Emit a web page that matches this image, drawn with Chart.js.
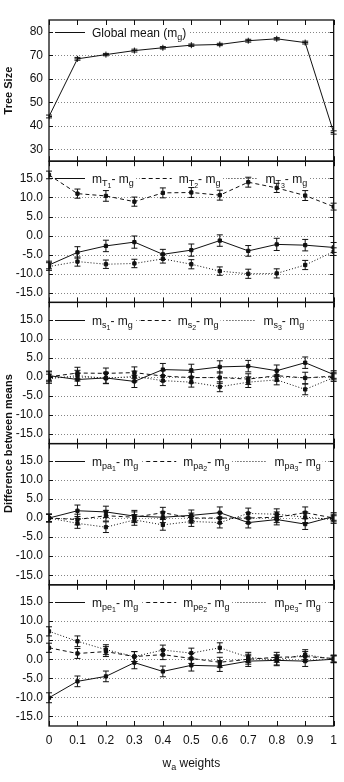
<!DOCTYPE html>
<html lang="en">
<head>
<meta charset="UTF-8" />
<title>Tree size and differences between means</title>
<script src="https://cdn.jsdelivr.net/npm/chart.js@4"></script>
<style>
  body { margin: 0; background: #fff; }
  canvas { display: block; }
</style>
</head>
<body>
<canvas id="chart" width="344" height="782"></canvas>
<script>
// x values (w_a weights) and tick labels
const weights = [0, 0.1, 0.2, 0.3, 0.4, 0.5, 0.6, 0.7, 0.8, 0.9, 1];
const treeTicks = [30, 40, 50, 60, 70, 80];
const diffTicks = [-15, -10, -5, 0, 5, 10, 15];

// panel 1: global mean tree size
const globalMean    = [44.0, 68.5, 70.3, 72.0, 73.2, 74.3, 74.6, 76.2, 77.0, 75.4, 37.2];
const globalMeanErr = [0.6, 0.6, 0.5, 0.6, 0.5, 0.5, 0.5, 0.6, 0.5, 0.6, 0.7];

// panel 2: m_T - m_g
const t1    = [-7.7, -4.4, -2.7, -1.7, -4.9, -3.8, -1.3, -4.0, -2.3, -2.5, -3.1];
const t1Err = [1.0, 1.5, 1.5, 1.6, 1.3, 1.6, 1.5, 1.4, 1.6, 1.5, 1.3];
const t2    = [15.9, 11.0, 10.4, 8.9, 11.2, 11.3, 10.6, 14.0, 12.5, 10.5, 7.6];
const t2Err = [1.0, 1.2, 1.4, 1.2, 1.3, 1.3, 1.3, 1.3, 1.2, 1.3, 0.9];
const t3    = [-8.1, -6.8, -7.5, -7.3, -6.1, -7.5, -9.3, -10.0, -9.9, -7.7, -4.2];
const t3Err = [1.0, 1.2, 1.1, 1.1, 1.1, 1.2, 1.1, 1.2, 1.2, 1.2, 1.0];

// panel 3: m_s - m_g
const s1    = [0.3, -0.7, -0.3, -1.2, 1.9, 1.7, 2.6, 2.8, 1.6, 3.7, 0.6];
const s1Err = [1.2, 1.6, 1.5, 1.6, 1.6, 1.6, 1.6, 1.5, 1.5, 1.5, 1.0];
const s2    = [0.0, 1.0, 0.9, 1.1, 0.2, -0.2, -0.2, -0.6, 0.3, -0.3, 0.2];
const s2Err = [1.3, 1.5, 1.4, 1.5, 1.4, 1.4, 1.5, 1.4, 1.4, 1.5, 1.0];
const s3    = [-0.5, 0.3, -0.4, 0.1, -1.0, -1.4, -2.6, -1.4, -0.8, -3.3, -0.2];
const s3Err = [1.2, 1.4, 1.3, 1.4, 1.3, 1.3, 1.3, 1.4, 1.3, 1.4, 1.0];

// panel 4: m_pa - m_g
const pa1    = [0.0, 1.9, 1.6, 0.5, 0.2, 0.7, 1.4, -1.2, -0.4, -1.6, 0.4];
const pa1Err = [1.0, 1.5, 1.5, 1.5, 1.4, 1.4, 1.5, 1.4, 1.4, 1.4, 1.0];
const pa2    = [0.0, -0.4, 0.6, 0.2, 1.4, 0.0, 0.0, 0.0, 0.2, 1.4, 0.0];
const pa2Err = [1.0, 1.4, 1.4, 1.4, 1.4, 1.3, 1.4, 1.4, 1.4, 1.5, 1.0];
const pa3    = [0.0, -1.4, -2.4, -0.5, -1.8, -0.9, -1.2, 1.2, 1.0, 0.2, -0.4];
const pa3Err = [1.0, 1.3, 1.4, 1.4, 1.4, 1.3, 1.4, 1.4, 1.4, 1.4, 1.0];

// panel 5: m_pe - m_g
const pe1    = [-10.1, -5.8, -4.5, -0.9, -3.2, -1.6, -1.8, -0.5, -0.3, -0.5, 0.0];
const pe1Err = [1.3, 1.4, 1.4, 1.6, 1.4, 1.5, 1.4, 1.4, 1.4, 1.4, 0.9];
const pe2    = [3.0, 1.5, 2.0, 0.7, 1.2, 0.2, -0.8, 0.0, 0.5, 0.7, 0.2];
const pe2Err = [1.2, 1.3, 1.3, 1.3, 1.3, 1.3, 1.3, 1.3, 1.3, 1.3, 0.9];
const pe3    = [7.3, 4.7, 2.5, 0.7, 2.4, 1.6, 3.0, 0.5, -0.2, 1.2, 0.0];
const pe3Err = [1.2, 1.4, 1.3, 1.3, 1.3, 1.3, 1.3, 1.3, 1.3, 1.3, 0.9];

// label pieces: [text, level]  level 0 = normal, 1 = subscript, 2 = sub-subscript
const lbl = (a, n) => [['m', 0], [a, 1], [n, 2], ['- m', 0], ['g', 1]];

const FONT = '"Liberation Sans", Arial, Helvetica, sans-serif';
const INK = '#111';
const SOLID = [], DASHED = [4, 3], DOTTED = [1, 2];

const panels = [
  { id: 'y1', min: 25, max: 85, ticks: treeTicks, fmt: v => String(v) },
  { id: 'y2', min: -17.5, max: 19.5, ticks: diffTicks, fmt: v => v.toFixed(1) },
  { id: 'y3', min: -17.5, max: 19.5, ticks: diffTicks, fmt: v => v.toFixed(1) },
  { id: 'y4', min: -17.5, max: 19.5, ticks: diffTicks, fmt: v => v.toFixed(1) },
  { id: 'y5', min: -17.5, max: 19.5, ticks: diffTicks, fmt: v => v.toFixed(1) }
];

const series = [
  { axis: 'y1', values: globalMean, err: globalMeanErr, dash: SOLID, point: 'cross',
    label: [['Global mean (m', 0], ['g', 1], [')', 0]] },
  { axis: 'y2', values: t1, err: t1Err, dash: SOLID, label: lbl('T', '1') },
  { axis: 'y2', values: t2, err: t2Err, dash: DASHED, label: lbl('T', '2') },
  { axis: 'y2', values: t3, err: t3Err, dash: DOTTED, label: lbl('T', '3') },
  { axis: 'y3', values: s1, err: s1Err, dash: SOLID, label: lbl('s', '1') },
  { axis: 'y3', values: s2, err: s2Err, dash: DASHED, label: lbl('s', '2') },
  { axis: 'y3', values: s3, err: s3Err, dash: DOTTED, label: lbl('s', '3') },
  { axis: 'y4', values: pa1, err: pa1Err, dash: SOLID, label: lbl('pa', '1') },
  { axis: 'y4', values: pa2, err: pa2Err, dash: DASHED, label: lbl('pa', '2') },
  { axis: 'y4', values: pa3, err: pa3Err, dash: DOTTED, label: lbl('pa', '3') },
  { axis: 'y5', values: pe1, err: pe1Err, dash: SOLID, label: lbl('pe', '1') },
  { axis: 'y5', values: pe2, err: pe2Err, dash: DASHED, label: lbl('pe', '2') },
  { axis: 'y5', values: pe3, err: pe3Err, dash: DOTTED, label: lbl('pe', '3') }
];

const subFonts = ['12px ' + FONT, '9px ' + FONT, '7px ' + FONT];
const subOffs = [0, 3, 5];

function partsWidth(ctx, parts) {
  let w = 0;
  for (const [t, l] of parts) { ctx.font = subFonts[l]; w += ctx.measureText(t).width; }
  return w;
}
function drawParts(ctx, parts, x, y) {
  for (const [t, l] of parts) {
    ctx.font = subFonts[l];
    ctx.fillText(t, x, y + subOffs[l]);
    x += ctx.measureText(t).width;
  }
}
// where each key entry of a panel goes
function keyLayout(chart, p) {
  const ctx = chart.ctx, area = chart.chartArea, sc = chart.scales[p.id];
  const items = series.filter(s => s.axis === p.id);
  const y = Math.round(sc.getPixelForValue(p.ticks[p.ticks.length - 1])) + 0.5;
  const col = Math.max(...items.map(s => partsWidth(ctx, s.label))) + 45;
  return items.map((s, i) => ({ s, y, tx: area.left + 43 + i * col, tw: partsWidth(ctx, s.label) }));
}

const decor = {
  id: 'decor',
  beforeDatasetsDraw(chart) {
    const ctx = chart.ctx, area = chart.chartArea;
    ctx.save();
    ctx.strokeStyle = '#666';
    ctx.lineWidth = 0.8;
    ctx.setLineDash([1, 2]);
    for (const p of panels) {
      const sc = chart.scales[p.id];
      for (const v of p.ticks) {
        const y = Math.round(sc.getPixelForValue(v)) + 0.5;
        ctx.beginPath();
        ctx.moveTo(area.left, y);
        ctx.lineTo(area.right, y);
        ctx.stroke();
      }
    }
    // keep key text clear of the grid, data still drawn on top
    ctx.fillStyle = '#fff';
    for (const p of panels) {
      for (const k of keyLayout(chart, p)) {
        ctx.fillRect(k.tx - 38, k.y - 2, k.tw + 40, 4);
      }
    }
    ctx.restore();
  },
  afterDatasetsDraw(chart) {
    const ctx = chart.ctx, area = chart.chartArea, xs = chart.scales.x;
    ctx.save();
    // error bars
    ctx.strokeStyle = INK;
    ctx.lineWidth = 1;
    ctx.setLineDash([]);
    for (const s of series) {
      const sc = chart.scales[s.axis];
      s.values.forEach((v, i) => {
        const x = xs.getPixelForValue(weights[i]);
        const y1 = sc.getPixelForValue(v - s.err[i]);
        const y2 = sc.getPixelForValue(v + s.err[i]);
        ctx.beginPath();
        ctx.moveTo(x, y1); ctx.lineTo(x, y2);
        ctx.moveTo(x - 3, y1); ctx.lineTo(x + 3, y1);
        ctx.moveTo(x - 3, y2); ctx.lineTo(x + 3, y2);
        ctx.stroke();
      });
    }
    // panel frames and tick marks
    for (const p of panels) {
      const sc = chart.scales[p.id];
      ctx.lineWidth = 1;
      ctx.beginPath();
      for (const w of weights) {
        const x = Math.round(xs.getPixelForValue(w)) + 0.5;
        ctx.moveTo(x, sc.top); ctx.lineTo(x, sc.top + 5);
        ctx.moveTo(x, sc.bottom); ctx.lineTo(x, sc.bottom - 5);
      }
      for (const v of p.ticks) {
        const y = Math.round(sc.getPixelForValue(v)) + 0.5;
        ctx.moveTo(area.left, y); ctx.lineTo(area.left + 4, y);
        ctx.moveTo(area.right, y); ctx.lineTo(area.right - 4, y);
      }
      ctx.stroke();
      ctx.lineWidth = 1.3;
      ctx.strokeRect(area.left, sc.top, area.right - area.left, sc.bottom - sc.top);
    }
    // keys
    ctx.fillStyle = INK;
    ctx.textBaseline = 'alphabetic';
    for (const p of panels) {
      for (const k of keyLayout(chart, p)) {
        ctx.setLineDash(k.s.dash);
        ctx.lineWidth = 1;
        ctx.beginPath();
        ctx.moveTo(k.tx - 37, k.y); ctx.lineTo(k.tx - 7, k.y);
        ctx.stroke();
        ctx.setLineDash([]);
        drawParts(ctx, k.s.label, k.tx, k.y + 4);
      }
    }
    ctx.restore();
  },
  afterDraw(chart) {
    const ctx = chart.ctx, area = chart.chartArea;
    ctx.save();
    ctx.fillStyle = INK;
    // x title
    const xt = [['w', 0], ['a', 1], [' weights', 0]];
    drawParts(ctx, xt, (area.left + area.right) / 2 - partsWidth(ctx, xt) / 2, 767);
    // y titles
    ctx.font = 'bold 11px ' + FONT;
    ctx.textAlign = 'center';
    ctx.textBaseline = 'middle';
    const p1 = chart.scales.y1, p2 = chart.scales.y2, p5 = chart.scales.y5;
    ctx.translate(9, (p1.top + p1.bottom) / 2);
    ctx.rotate(-Math.PI / 2);
    ctx.fillText('Tree Size', 0, 0);
    ctx.rotate(Math.PI / 2);
    ctx.translate(0, (p2.top + p5.bottom) / 2 - (p1.top + p1.bottom) / 2);
    ctx.rotate(-Math.PI / 2);
    ctx.fillText('Difference between means', 0, 0);
    ctx.restore();
  }
};

const scales = {};
// stacked left axes are placed top-down in reverse definition order
for (const p of panels.slice().reverse()) {
  scales[p.id] = {
    type: 'linear',
    position: 'left',
    stack: 'panels',
    stackWeight: 1,
    min: p.min,
    max: p.max,
    afterBuildTicks: sc => { sc.ticks = p.ticks.map(v => ({ value: v })); },
    afterFit: sc => { sc.width = 49; },
    grid: { display: false, drawTicks: false },
    border: { display: false },
    ticks: { autoSkip: false, padding: 6, color: INK, font: { family: FONT, size: 12 }, callback: v => p.fmt(v) }
  };
}
scales.x = {
  type: 'linear',
  min: 0,
  max: 1,
  afterBuildTicks: sc => { sc.ticks = weights.map(v => ({ value: v })); },
  afterFit: sc => { sc.height = 56; },
  grid: { display: false, drawTicks: false },
  border: { display: false },
  ticks: { autoSkip: false, maxRotation: 0, padding: 7, color: INK, font: { family: FONT, size: 12 }, callback: v => String(v) }
};

new Chart(document.getElementById('chart'), {
  type: 'line',
  data: {
    datasets: series.map(s => ({
      data: s.values.map((v, i) => ({ x: weights[i], y: v })),
      yAxisID: s.axis,
      borderColor: INK,
      backgroundColor: INK,
      borderWidth: 1,
      borderDash: s.dash,
      pointStyle: s.point || 'rect',
      pointRadius: s.point ? 3 : 2.3,
      pointBorderWidth: 1,
      tension: 0,
      fill: false
    }))
  },
  options: {
    responsive: false,
    animation: false,
    layout: { padding: { top: 20, right: 5, left: 0, bottom: 0 } },
    plugins: { legend: { display: false }, tooltip: { enabled: false } },
    scales
  },
  plugins: [decor]
});
</script>
</body>
</html>
